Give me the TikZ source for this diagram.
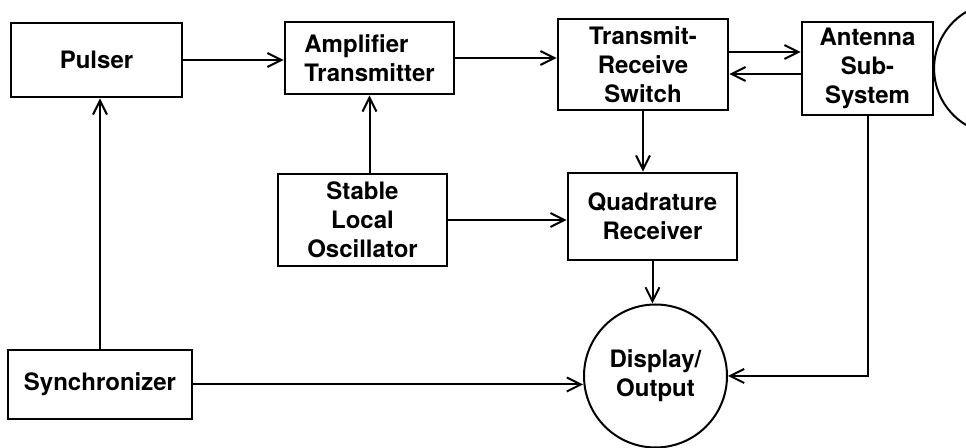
\documentclass[tikz,border=0pt]{standalone}
\usepackage{fontspec}
\setmainfont{TeX Gyre Heros}
\usetikzlibrary{arrows.meta, positioning, calc}

\tikzset{
    block/.style={draw, line width=1.3pt, align=center, inner sep=0pt,
                  font=\fontsize{12}{14.5}\selectfont\bfseries},
    roundblock/.style={block, circle, line width=1pt},
    link/.style={-{Straight Barb[length=7pt, width=7pt]}, line width=1pt}
}

\begin{document}
\begin{tikzpicture}[x=0.5pt, y=0.5pt]
    \useasboundingbox (0,0) rectangle (966,-448);

    % Top row
    \node[block, minimum width=85.5pt, minimum height=37pt] (pulser)
        at (96.5,-60) {Pulser};
    \node[block, align=left, minimum width=84.5pt, minimum height=36pt] (amp)
        at (369.5,-58) {Amplifier\\Transmitter};
    \node[block, minimum width=85pt, minimum height=45.5pt] (trs)
        at (643,-64.5) {Transmit-\\Receive\\Switch};
    \node[block, minimum width=65.5pt, minimum height=46.5pt] (ant)
        at (867.5,-68.5) {Antenna\\Sub-\\System};

    % Dish
    \draw[line width=1pt] (1000,-68.5) ++(121:65.9)
        arc[start angle=121, end angle=239, radius=32.95pt];

    % Middle row
    \node[block, minimum width=84.5pt, minimum height=46pt] (slo)
        at (362.5,-220) {Stable\\Local\\Oscillator};
    \node[block, minimum width=84.5pt, minimum height=43.5pt] (quad)
        at (652.5,-216.5) {Quadrature\\Receiver};

    % Bottom row
    \node[block, minimum width=92pt, minimum height=34.5pt] (sync)
        at (100,-384.5) {Synchronizer};
    \node[roundblock, minimum size=71.5pt] (disp)
        at (655.5,-376) {Display/\\Output};

    % Connections
    \draw[link] (pulser.east) -- (pulser.east -| amp.west);
    \draw[link] (amp.east) -- (amp.east -| trs.west);
    \draw[link] ([yshift=6.25pt]trs.east) -- ([yshift=6.25pt]trs.east -| ant.west);
    \draw[link] ([yshift=-4.75pt]trs.east -| ant.west) -- ([yshift=-4.75pt]trs.east);
    \draw[link] (sync.north) -- (sync.north |- pulser.south);
    \draw[link] (slo.north -| amp.south) -- (amp.south);
    \draw[link] (slo.east) -- (slo.east -| quad.west);
    \draw[link] (trs.south) -- (trs.south |- quad.north);
    \draw[link] (quad.south) -- (quad.south |- disp.north);
    \draw[link] (sync.east) -- (sync.east -| disp.west);
    \draw[link] (ant.south) |- (disp.east);
\end{tikzpicture}
\end{document}
